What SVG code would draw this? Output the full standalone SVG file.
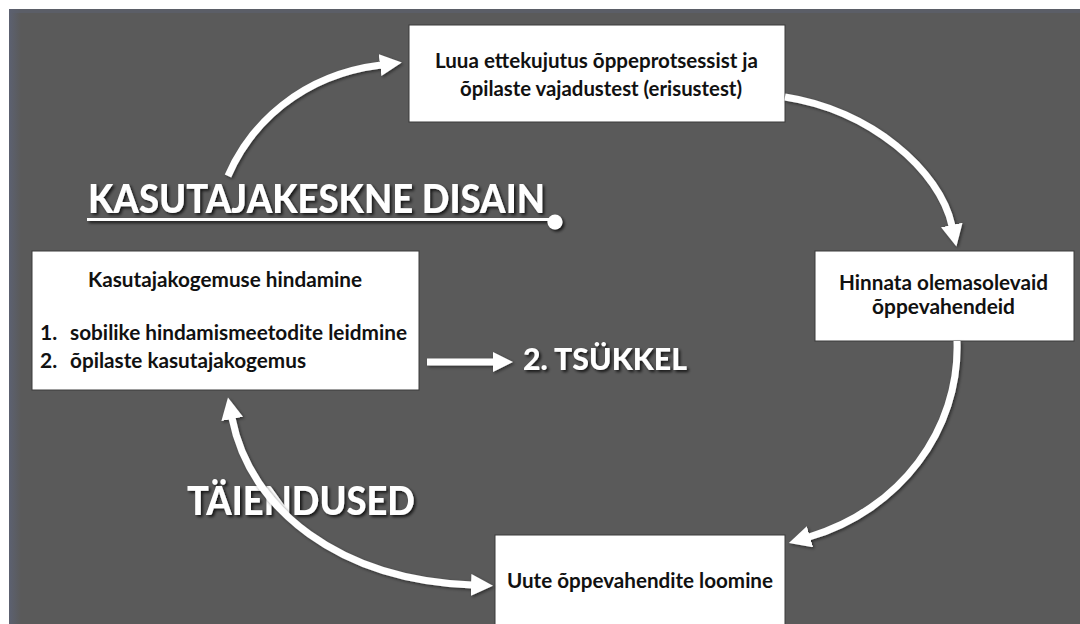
<svg xmlns="http://www.w3.org/2000/svg" width="1080" height="624" viewBox="0 0 1080 624">
<defs>
<style>
.bx{fill:#ffffff;stroke:#3a3a3a;stroke-width:1}
.t{font-family:"Lato","Liberation Sans",sans-serif;font-weight:bold;font-size:21px;fill:#111111}
.big{font-family:"Lato","Liberation Sans",sans-serif;font-weight:900;fill:#ffffff}
.arr{fill:none;stroke:#ffffff;stroke-width:7}
</style>
<linearGradient id="edge" x1="0" y1="0" x2="1" y2="0">
<stop offset="0" stop-color="#5c6171"/>
<stop offset="1" stop-color="#5a5a5a"/>
</linearGradient>
<filter id="sh" x="-10%" y="-30%" width="130%" height="170%">
<feDropShadow dx="2" dy="2" stdDeviation="1.5" flood-color="#000000" flood-opacity="0.75"/>
</filter>
<filter id="ash" x="-20%" y="-20%" width="140%" height="140%">
<feDropShadow dx="1.5" dy="1.5" stdDeviation="1.5" flood-color="#000000" flood-opacity="0.5"/>
</filter>
<marker id="ah" markerUnits="userSpaceOnUse" markerWidth="24" markerHeight="24" refX="1" refY="11" orient="auto-start-reverse" viewBox="0 0 24 24">
<path d="M0,0 L22,11 L0,22 Z" fill="#ffffff"/>
</marker>
<marker id="ahs" markerUnits="userSpaceOnUse" markerWidth="22" markerHeight="22" refX="1" refY="10" orient="auto" viewBox="0 0 22 22">
<path d="M0,0 L20,10 L0,20 Z" fill="#ffffff"/>
</marker>
</defs>
<rect x="0" y="0" width="1080" height="624" fill="#ffffff"/>
<rect x="9" y="9" width="1071" height="615" fill="#5a5a5a"/>
<rect x="9" y="9" width="12" height="615" fill="url(#edge)"/>
<rect x="9" y="9" width="1071" height="4" fill="#5c6070" opacity="0.6"/>

<g id="label-kasutajakeskne">
<g filter="url(#sh)">
<text class="big" x="88" y="213" font-size="40" textLength="457" lengthAdjust="spacingAndGlyphs">KASUTAJAKESKNE DISAIN</text>
<line x1="87" y1="219.5" x2="553" y2="219.5" stroke="#ffffff" stroke-width="3"/>
<circle cx="555" cy="222" r="7.5" fill="#ffffff"/>
</g>
</g>

<g id="label-taiendused">
<text class="big" x="187" y="515" font-size="40" textLength="228" lengthAdjust="spacingAndGlyphs" filter="url(#sh)">TÄIENDUSED</text>
</g>

<g id="node-luua">
<rect class="bx" x="409" y="25" width="376" height="97"/>
<text class="t" x="435" y="68" textLength="323" lengthAdjust="spacingAndGlyphs">Luua ettekujutus õppeprotsessist ja</text>
<text class="t" x="460" y="96" textLength="282" lengthAdjust="spacingAndGlyphs">õpilaste vajadustest (erisustest)</text>
</g>

<g id="node-hinnata">
<rect class="bx" x="815" y="251" width="259" height="90"/>
<text class="t" x="839" y="290" textLength="209" lengthAdjust="spacingAndGlyphs">Hinnata olemasolevaid</text>
<text class="t" x="872" y="314" textLength="143" lengthAdjust="spacingAndGlyphs">õppevahendeid</text>
</g>

<g id="node-kasutajakogemus">
<rect class="bx" x="32" y="251" width="387" height="139"/>
<text class="t" x="88" y="287" textLength="274" lengthAdjust="spacingAndGlyphs">Kasutajakogemuse hindamine</text>
<text class="t" x="40" y="340">1.</text>
<text class="t" x="70" y="340" textLength="337" lengthAdjust="spacingAndGlyphs">sobilike hindamismeetodite leidmine</text>
<text class="t" x="40" y="368">2.</text>
<text class="t" x="70" y="368" textLength="236" lengthAdjust="spacingAndGlyphs">õpilaste kasutajakogemus</text>
</g>

<g id="node-uute">
<rect class="bx" x="495" y="535" width="290" height="95"/>
<text class="t" x="507" y="588" textLength="266" lengthAdjust="spacingAndGlyphs">Uute õppevahendite loomine</text>
</g>

<g id="label-tsukkel">
<text class="big" x="523" y="370" font-size="31" textLength="164" lengthAdjust="spacingAndGlyphs" filter="url(#sh)">2. TSÜKKEL</text>
</g>

<g id="connectors" filter="url(#ash)">
<path class="arr" d="M228,176 C250,125 300,75 381,65" marker-end="url(#ah)"/>
<path class="arr" d="M785,97 C870,110 940,170 952,226" marker-end="url(#ah)"/>
<path class="arr" d="M957,341 C960,430 900,510 809,537" marker-end="url(#ah)"/>
<path class="arr" d="M232,418 C250,510 340,580 472,585" marker-start="url(#ah)" marker-end="url(#ah)"/>
<path class="arr" d="M427,362 L494,362" stroke-width="5" marker-end="url(#ahs)"/>
</g>
</svg>
